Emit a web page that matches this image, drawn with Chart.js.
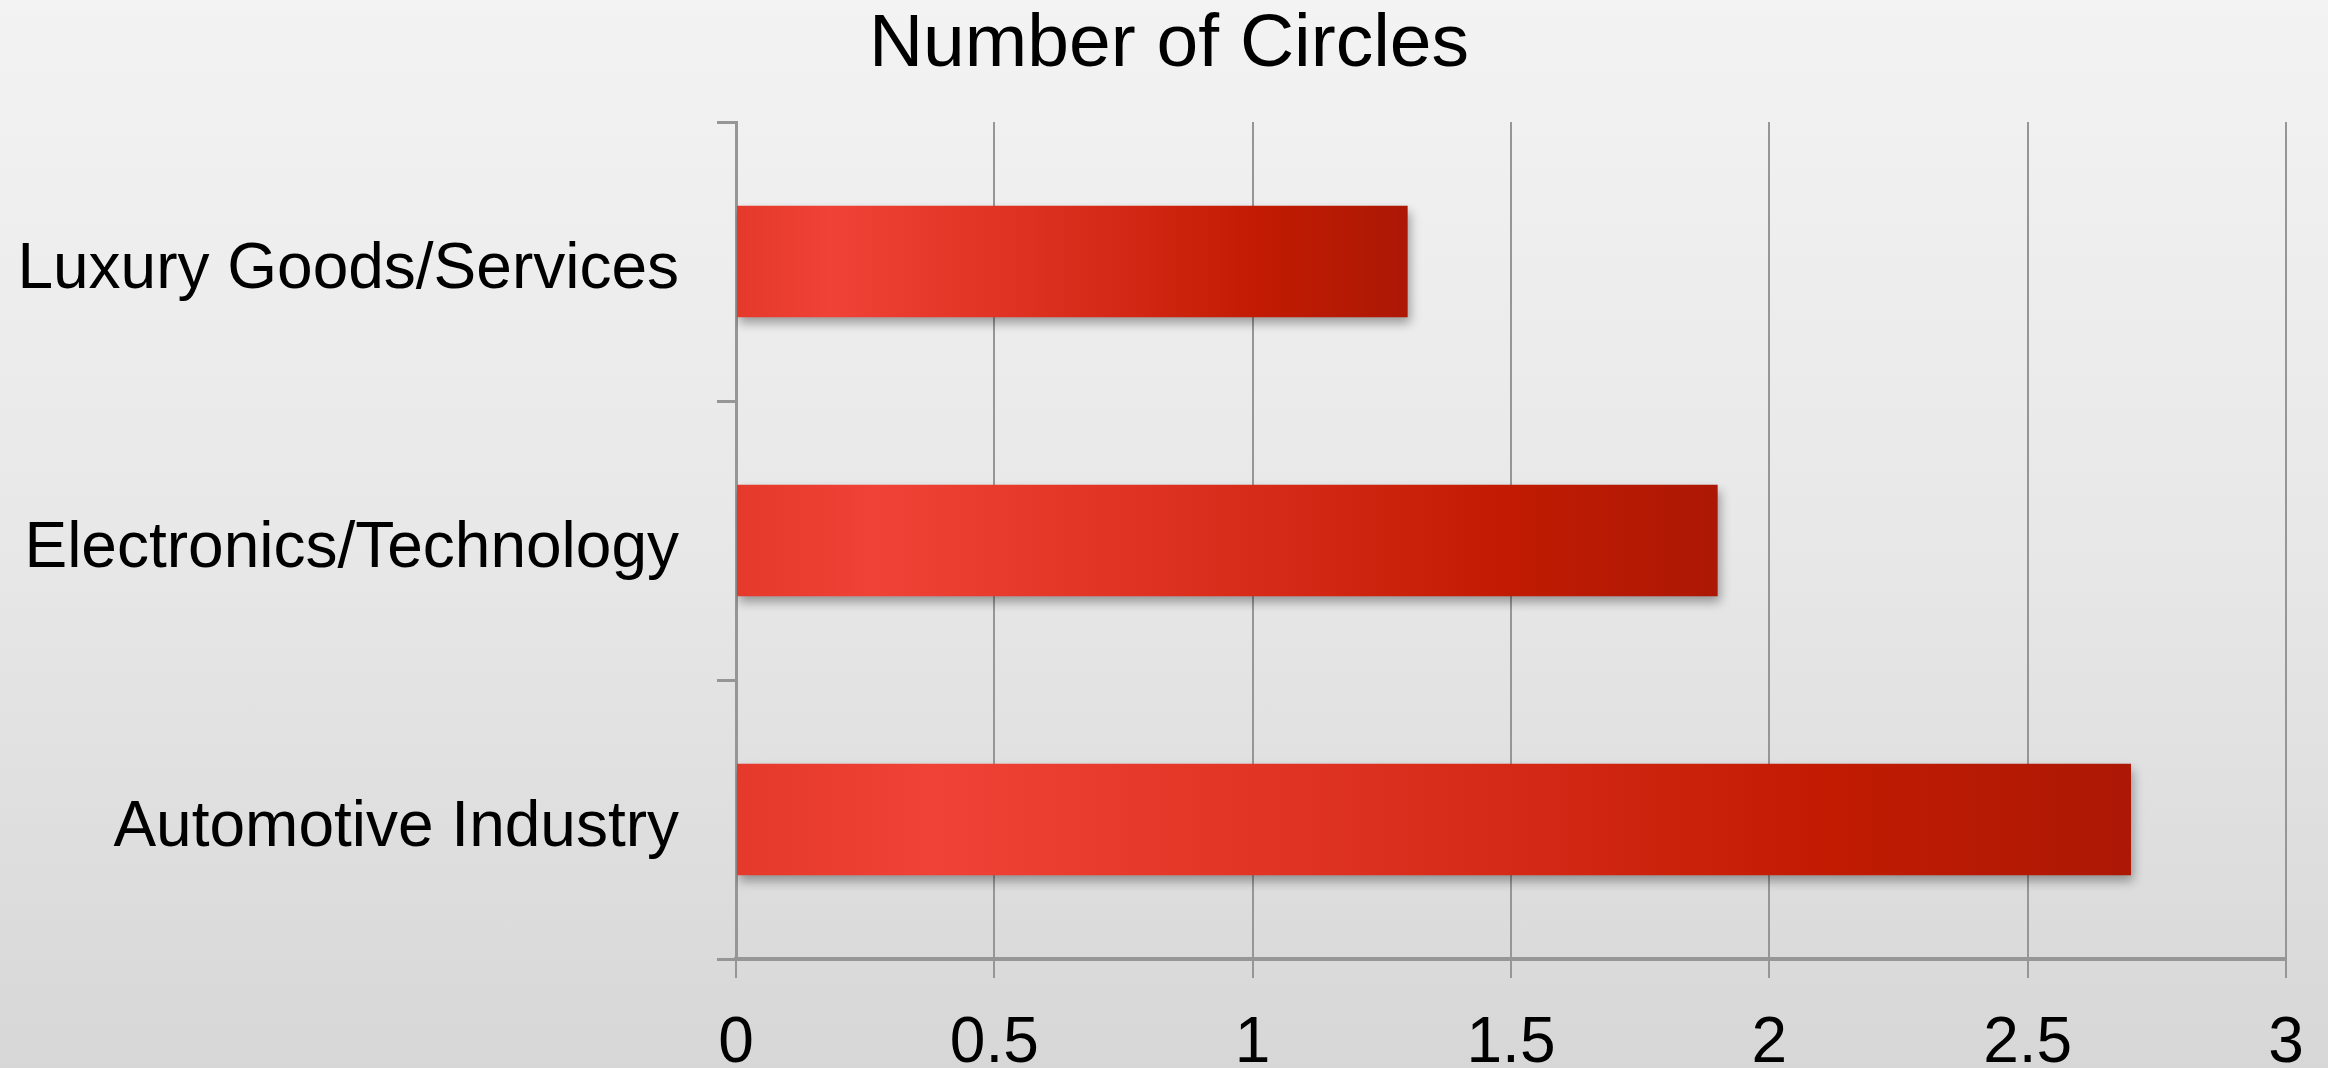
<!DOCTYPE html>
<html>
<head>
<meta charset="utf-8">
<title>Number of Circles</title>
<script src="https://cdn.jsdelivr.net/npm/chart.js@4.4.1/dist/chart.umd.min.js"></script>
<style>
  html, body { margin: 0; padding: 0; overflow: hidden; }
  body {
    width: 2328px;
    height: 1068px;
    background: linear-gradient(to bottom, #f3f3f3 0%, #e8e8e8 50%, #d7d7d7 100%);
  }
</style>
</head>
<body>
<canvas id="circles" width="2328" height="1068"></canvas>
<script>
const industries = ['Luxury Goods/Services', 'Electronics/Technology', 'Automotive Industry']
const circleCounts = [1.3, 1.9, 2.7]
const xTicks = [0, 0.5, 1, 1.5, 2, 2.5, 3]

// colours
const gridGray = 'rgb(150 150 150)'
const axisGray = 'rgb(150 150 150)'
const fontFamily = '"Liberation Sans", Arial, Helvetica, sans-serif'

// red bar, lighter near the start, deep red at the end
function barGradient(context) {
    const chart = context.chart
    if (!chart.chartArea || context.raw == null) return '#d62a1c'
    const xs = chart.scales.x
    const x0 = xs.getPixelForValue(0)
    const x1 = xs.getPixelForValue(context.raw)
    const g = chart.ctx.createLinearGradient(x0, 0, x1, 0)
    g.addColorStop(0, '#e4392b')
    g.addColorStop(0.14, '#f04236')
    g.addColorStop(0.5, '#d92d1c')
    g.addColorStop(0.78, '#c21b02')
    g.addColorStop(1, '#ac1805')
    return g
}

const barShadow = {
    id: 'barShadow',
    beforeDatasetsDraw(chart) {
        const c = chart.ctx
        c.save()
        c.shadowColor = 'rgba(0, 0, 0, 0.35)'
        c.shadowBlur = 10
        c.shadowOffsetX = 2
        c.shadowOffsetY = 6
    },
    afterDatasetsDraw(chart) {
        chart.ctx.restore()
    },
}

// title sits a little right of the canvas centre in the original
const titleNudge = {
    id: 'titleNudge',
    afterLayout(chart) {
        const t = chart.titleBlock
        if (t) {
            t.left += 26
            t.right += 26
        }
    },
}

new Chart(document.getElementById('circles'), {
    type: 'bar',
    plugins: [barShadow, titleNudge],
    data: {
        labels: industries,
        datasets: [
            {
                label: 'Number of Circles',
                data: circleCounts,
                backgroundColor: barGradient,
                borderWidth: 0,
                barPercentage: 0.4,
                categoryPercentage: 1,
            },
        ],
    },
    options: {
        indexAxis: 'y',
        responsive: false,
        devicePixelRatio: 1,
        animation: false,
        layout: { padding: { top: 0, right: 42, bottom: 0, left: 0 } },
        plugins: {
            legend: { display: false },
            tooltip: { enabled: false },
            title: {
                display: true,
                text: 'Number of Circles',
                color: '#000',
                font: { family: fontFamily, size: 75, weight: 'normal', lineHeight: 1.2 },
                padding: { top: 0, bottom: 32 },
            },
        },
        scales: {
            x: {
                min: 0,
                max: 3,
                afterBuildTicks: (scale) => {
                    scale.ticks = xTicks.map((v) => ({ value: v }))
                },
                afterFit: (scale) => {
                    scale.height = 109
                    scale.paddingLeft = 0
                    scale.paddingRight = 0
                },
                grid: { color: gridGray, lineWidth: 2, tickLength: 19 },
                border: { color: axisGray, width: 4 },
                ticks: {
                    color: '#000',
                    font: { family: fontFamily, size: 64 },
                    padding: 28,
                    maxRotation: 0,
                    callback: (v) => String(v),
                },
            },
            y: {
                afterFit: (scale) => {
                    scale.width = 736
                },
                grid: { drawOnChartArea: false, color: axisGray, lineWidth: 3, tickLength: 19, offset: true },
                border: { color: axisGray, width: 3 },
                ticks: {
                    color: '#000',
                    font: { family: fontFamily, size: 64 },
                    padding: 38,
                    labelOffset: 9,
                },
            },
        },
    },
})
</script>
</body>
</html>
